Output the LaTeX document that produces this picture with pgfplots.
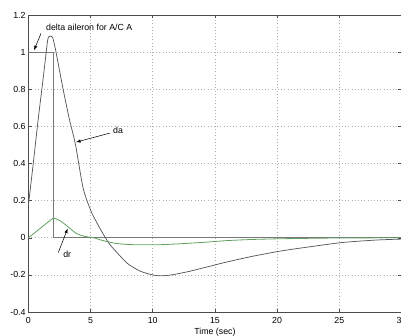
\documentclass[border=0pt]{standalone}
\usepackage{pgfplots}
\pgfplotsset{compat=1.18}
\usepackage{fontspec}
\setmainfont{Liberation Sans}
\usetikzlibrary{arrows.meta}

\definecolor{daline}{RGB}{85,85,95}
\definecolor{stepline}{RGB}{120,120,120}
\definecolor{drline}{RGB}{95,160,95}
\definecolor{gridc}{RGB}{175,175,175}

\begin{document}
\begin{tikzpicture}
\begin{scope}
\clip (-21.2pt,-17.25pt) rectangle (279.5pt,234pt);
\begin{axis}[
  at={(0,0)}, anchor=south west,
  scale only axis, width=279.9pt, height=222.75pt,
  xmin=0, xmax=30, ymin=-0.4, ymax=1.2,
  xtick={0,5,...,30},
  ytick={-0.4,-0.2,0,0.2,0.4,0.6,0.8,1,1.2},
  yticklabels={-0.4,-0.2,0,0.2,0.4,0.6,0.8,1,1.2},
  xticklabels={0,5,10,15,20,25,30},
  grid=major,
  major grid style={gridc, dotted, line width=0.5pt},
  axis line style={black!70, line width=0.5pt},
  tick style={black!70, line width=0.4pt},
  tick align=inside,
  major tick length=2.5pt,
  font=\fontsize{6.6}{7.5}\selectfont,
  /pgf/number format/assume math mode=true,
  xticklabel style={font=\fontsize{6.6}{7.5}\selectfont, yshift=-0.5pt},
  yticklabel style={font=\fontsize{6.6}{7.5}\selectfont, xshift=1.5pt},
  xlabel={Time (sec)},
  xlabel style={font=\fontsize{6.6}{7.5}\selectfont, yshift=3.3pt},
  clip=false,
]
% commanded aileron step
\addplot[stepline, line width=0.6pt] coordinates {
  (0,1) (2,1) (2,0) (30,0)
};
% aileron deflection response
\addplot[daline, line width=0.55pt, smooth, tension=0.4] coordinates {
  (0,0.17) (0.4,0.40) (0.8,0.64) (1.2,0.86) (1.55,1.06) (1.7,1.085)
  (1.95,1.08) (2.2,1.01) (2.8,0.80) (3.3,0.64) (3.8,0.50)
  (4.4,0.27) (5.0,0.15) (5.6,0.07) (6.2,0.0) (6.6,-0.04) (7.2,-0.085)
  (8,-0.14) (9,-0.18) (10,-0.2) (10.6,-0.205) (11.5,-0.2)
  (13,-0.18) (15.8,-0.133) (18,-0.1) (20.4,-0.07) (23,-0.045)
  (25.3,-0.025) (28,-0.012) (30,-0.007)
};
% rudder deflection response
\addplot[drline, line width=0.6pt, smooth, tension=0.3] coordinates {
  (0,0) (0.5,0.026) (1,0.053) (1.5,0.08) (2,0.105) (2.3,0.1)
  (2.6,0.09) (3,0.07) (3.5,0.042) (3.9,0.022) (4.5,0.008)
  (5.25,0) (6,-0.015) (7,-0.03) (8,-0.036) (9,-0.038)
  (10.7,-0.037) (12,-0.033) (14,-0.025) (16,-0.015) (18,-0.009)
  (20.4,-0.005) (25,-0.001) (30,0)
};
% annotations
\node[anchor=west, inner sep=0pt, font=\fontsize{6.6}{7.5}\selectfont]
  at (axis cs:1.42,1.135) {delta aileron for A/C A};
\draw[-{Latex[length=3.5pt,width=2.5pt]}, line width=0.4pt]
  (axis cs:1.02,1.10) -- (axis cs:0.46,1.01);
\node[anchor=west, inner sep=0pt, font=\fontsize{6.6}{7.5}\selectfont]
  at (axis cs:6.8,0.58) {da};
\draw[-{Latex[length=3.5pt,width=2.5pt]}, line width=0.4pt]
  (axis cs:6.57,0.564) -- (axis cs:3.83,0.515);
\node[anchor=west, inner sep=0pt, font=\fontsize{6.6}{7.5}\selectfont]
  at (axis cs:2.79,-0.089) {dr};
\draw[-{Latex[length=3.5pt,width=2.5pt]}, line width=0.4pt]
  (axis cs:2.41,-0.08) -- (axis cs:3.17,0.05);
\end{axis}
\end{scope}
\pgfresetboundingbox
\path[use as bounding box] (-21.2pt,-17.25pt) rectangle (279.5pt,234pt);
\end{tikzpicture}
\end{document}
